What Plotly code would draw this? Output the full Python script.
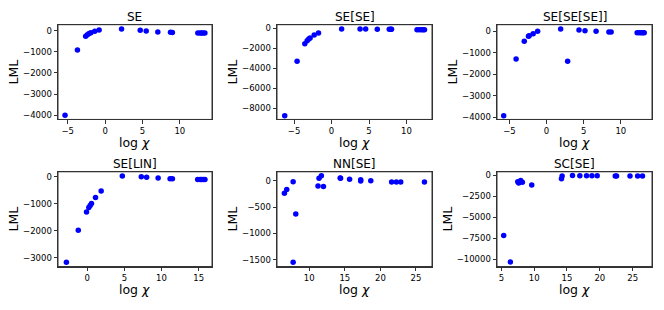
import plotly.graph_objects as go

W, H = 664, 310

titles = ["SE", "SE[SE]", "SE[SE[SE]]", "SE[LIN]", "NN[SE]", "SC[SE]"]
x_title = "log <i>\u03c7</i>"
y_title = "LML"

# --- data (log chi, LML) ---
se_x = [-5.36, -3.7, -2.6, -2.37, -2.14, -1.9, -1.38, -0.8, 2.2, 4.7, 5.5, 7.05, 8.75, 9.0,
        12.4, 12.7, 12.9, 13.1, 13.35]
se_y = [-4000, -920, -265, -190, -140, -95, -30, 30, 80, 15, -15, -60, -80, -90,
        -110, -110, -110, -110, -110]

sese_x = [-6.25, -4.6, -3.57, -3.26, -3.04, -2.86, -2.32, -1.74, 1.34, 3.8, 4.55, 6.1,
          7.7, 7.9, 8.0, 11.4, 11.7, 12.0, 12.2, 12.4]
sese_y = [-8767, -3300, -1533, -1233, -1067, -967, -667, -467, -67, -67, -67, -100,
          -100, -100, -100, -133, -133, -133, -133, -133]

sesese_x = [-5.77, -4.1, -3.0, -2.43, -2.34, -1.8, -1.2, 1.9, 2.84, 4.37, 5.18, 6.67,
            8.4, 8.7, 12.2, 12.5, 12.75, 12.97, 13.15]
sesese_y = [-3938, -1287, -465, -233, -200, -109, 0, 109, -1395, 62, 31, 0,
            -31, -31, -62, -62, -62, -62, -62]

selin_x = [-2.8, -1.2, -0.09, 0.22, 0.4, 0.58, 1.12, 1.88, 4.73, 7.28, 8.0, 9.55,
           11.16, 11.47, 14.87, 15.2, 15.4, 15.63, 15.85]
selin_y = [-3159, -1976, -1305, -1134, -1061, -988, -768, -524, 24, 0, -24, -49,
           -73, -73, -98, -98, -98, -98, -98]

nnse_x = [6.5, 6.83, 7.73, 7.73, 8.1, 11.23, 11.37, 11.7, 11.99, 14.35, 14.4, 15.67,
          17.23, 17.23, 18.65, 21.58, 22.25, 22.86, 26.2]
nnse_y = [-233, -164, -13, -1550, -630, -95, 50, 100, -107, 57, 50, 32,
          25, 0, 6, -19, -19, -19, -19]

scse_x = [5.36, 6.37, 7.5, 7.65, 7.95, 8.2, 9.63, 14.16, 14.26, 15.84, 16.96, 17.98,
          18.8, 19.6, 22.35, 22.55, 24.6, 25.76, 26.5]
scse_y = [-7154, -10316, -751, -909, -593, -830, -1146, -395, -79, 0, -40, -40,
          -40, -40, -79, -79, -79, -79, -79]

xs = [se_x, sese_x, sesese_x, selin_x, nnse_x, scse_x]
ys = [se_y, sese_y, sesese_y, selin_y, nnse_y, scse_y]

# tick values / labels
xtick_vals = [[-5, 0, 5, 10], [-5, 0, 5, 10], [-5, 0, 5, 10],
              [0, 5, 10, 15], [10, 15, 20, 25], [5, 10, 15, 20, 25]]
ytick_vals = [[0, -1000, -2000, -3000, -4000],
              [0, -2000, -4000, -6000, -8000],
              [0, -1000, -2000, -3000, -4000],
              [0, -1000, -2000, -3000],
              [0, -500, -1000, -1500],
              [0, -2500, -5000, -7500, -10000]]

# axis ranges (layout)
x_ranges = [[-6.3, 14.3], [-7.28, 13.4], [-6.67, 14.2], [-3.93, 16.8], [5.46, 27.26], [4.34, 27.95]]
y_ranges = [[-4203, 281], [-9133, 367], [-4109, 310], [-3317, 183], [-1632, 176], [-10870, 435]]

x_domains = [[58 / W, 212 / W], [277 / W, 432 / W], [497 / W, 652 / W]]
y_domains = [[(H - 120) / H, (H - 24) / H], [(H - 269) / H, (H - 173) / H]]


def lbl(v):
    s = str(abs(int(v)))
    return ("\u2212" + s) if v < 0 else s


fig = go.Figure()
FONT = "DejaVu Sans"
for i in range(6):
    r, c = divmod(i, 3)
    sfx = "" if i == 0 else str(i + 1)
    fig.add_trace(go.Scatter(x=xs[i], y=ys[i], mode="markers",
                             marker=dict(color="#0000ff", size=5.5),
                             xaxis="x" + sfx, yaxis="y" + sfx, showlegend=False))
    common = dict(showline=True, mirror=True, linecolor="#333333", linewidth=1,
                  ticks="outside", ticklen=3.5, tickwidth=0.8, tickcolor="#333333",
                  showgrid=False, zeroline=False,
                  tickfont=dict(family=FONT, size=8.5, color="#000000"))
    fig.update_layout(**{
        "xaxis" + sfx: dict(domain=x_domains[c], range=x_ranges[i], anchor="y" + sfx,
                            tickvals=xtick_vals[i], ticktext=[lbl(v) for v in xtick_vals[i]],
                            **common),
        "yaxis" + sfx: dict(domain=y_domains[r], range=y_ranges[i], anchor="x" + sfx,
                            tickvals=ytick_vals[i], ticktext=[lbl(v) for v in ytick_vals[i]],
                            title=dict(text=y_title, font=dict(family=FONT, size=12.5), standoff=1),
                            **common),
    })
    fig.add_shape(type="rect", xref="x" + sfx + " domain", yref="y" + sfx + " domain",
                  x0=0, x1=1, y0=0, y1=1, line=dict(color="#333333", width=1),
                  fillcolor="rgba(0,0,0,0)", layer="above")
    xc = (x_domains[c][0] + x_domains[c][1]) / 2
    fig.add_annotation(text=titles[i], xref="paper", yref="paper",
                       x=xc, y=y_domains[r][1],
                       xanchor="center", yanchor="bottom", yshift=-1, showarrow=False,
                       font=dict(family=FONT, size=12, color="#000000"))
    fig.add_annotation(text=x_title, xref="paper", yref="paper",
                       x=xc, y=y_domains[r][0],
                       xanchor="center", yanchor="top", yshift=-14.5, showarrow=False,
                       borderpad=0,
                       font=dict(family=FONT, size=12.5, color="#000000"))

fig.update_layout(width=W, height=H, margin=dict(l=0, r=0, t=0, b=0),
                  paper_bgcolor="white", plot_bgcolor="white",
                  font=dict(family=FONT, color="#000000"))
fig.write_html("out.html", config={"displayModeBar": False},
               post_script="document.body.style.margin='0';")
